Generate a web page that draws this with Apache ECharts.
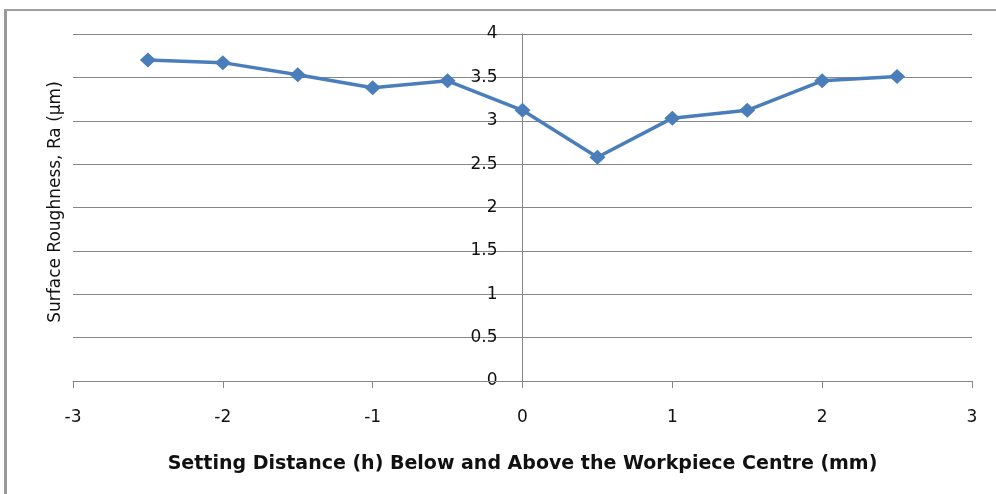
<!DOCTYPE html>
<html>
<head>
<meta charset="utf-8">
<script src="https://cdn.jsdelivr.net/npm/echarts@6/dist/echarts.min.js"></script>
<style>
  html, body { margin: 0; padding: 0; background: #fff; }
  #chart { width: 996px; height: 494px; }
</style>
</head>
<body>
<div id="chart"></div>
<script>
// Setting distance h (mm) and measured surface roughness Ra (µm)
var distances = [-2.5, -2, -1.5, -1, -0.5, 0, 0.5, 1, 1.5, 2, 2.5];
var roughness = [3.70, 3.67, 3.53, 3.38, 3.46, 3.12, 2.58, 3.03, 3.12, 3.46, 3.51];

var xTitle = 'Setting Distance (h) Below and Above the Workpiece Centre (mm)';
var yTitle = 'Surface Roughness, Ra (\u00b5m)';

var points = distances.map(function (d, i) { return [d, roughness[i]]; });

var gridLeft = 73, gridRight = 24;
var plotWidth = 996 - gridLeft - gridRight;
var axisGrey = '#868686';

var chart = echarts.init(document.getElementById('chart'));
chart.setOption({
  animation: false,
  backgroundColor: '#ffffff',
  textStyle: { fontFamily: '"DejaVu Sans", sans-serif' },
  graphic: [
    {
      type: 'line',
      shape: { x1: 5.5, y1: 10, x2: 5.5, y2: 494 },
      style: { stroke: '#999', lineWidth: 3 },
      silent: true
    },
    {
      type: 'line',
      shape: { x1: 4, y1: 10, x2: 996, y2: 10 },
      style: { stroke: '#a0a0a0', lineWidth: 2 },
      silent: true
    },
    {
      type: 'text',
      x: 56,
      y: 202,
      rotation: Math.PI / 2,
      style: {
        text: yTitle,
        fill: '#111',
        font: '17px "DejaVu Sans", sans-serif',
        textAlign: 'center',
        textVerticalAlign: 'middle'
      }
    }
  ],
  grid: { left: gridLeft, right: gridRight, top: 34, bottom: 113, containLabel: false },
  xAxis: {
    type: 'value',
    min: -3, max: 3, interval: 1,
    name: xTitle,
    nameLocation: 'middle',
    nameGap: 74,
    nameTextStyle: { color: '#111', fontSize: 19, fontWeight: 'bold', fontFamily: '"DejaVu Sans", sans-serif' },
    axisLine: { show: true, onZero: false, lineStyle: { color: axisGrey, width: 1 } },
    axisTick: { show: true, length: 7, inside: false, lineStyle: { color: axisGrey } },
    axisLabel: { color: '#111', fontSize: 17, margin: 28 },
    splitLine: { show: false }
  },
  yAxis: {
    type: 'value',
    min: 0, max: 4, interval: 0.5,
    // vertical axis sits at h = 0, in the middle of the plot
    offset: -plotWidth / 2,
    axisLine: { show: true, onZero: false, lineStyle: { color: axisGrey, width: 1 } },
    axisTick: { show: false },
    axisLabel: { color: '#111', fontSize: 17, margin: 25 },
    splitLine: { show: true, showMinLine: true, showMaxLine: true, lineStyle: { color: axisGrey, width: 1 } }
  },
  series: [{
    type: 'line',
    data: points,
    symbol: 'diamond',
    symbolSize: [16, 15],
    lineStyle: { color: '#4a7ebb', width: 3.5 },
    itemStyle: { color: '#4a7ebb' },
    z: 3,
    // baseline of the horizontal axis at Ra = 0
    markLine: {
      silent: true,
      symbol: 'none',
      label: { show: false },
      lineStyle: { color: axisGrey, width: 1, type: 'solid' },
      emphasis: { disabled: true },
      data: [{ yAxis: 0 }]
    }
  }]
});
</script>
</body>
</html>
